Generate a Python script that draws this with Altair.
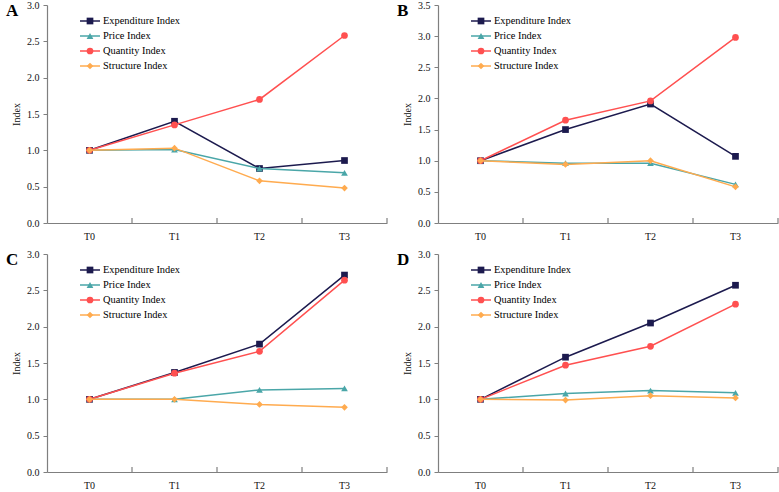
import altair as alt
import pandas as pd

periods = ["T0", "T1", "T2", "T3"]
series = ["Expenditure Index", "Price Index", "Quantity Index", "Structure Index"]
colors = ["#1c1a4e", "#4aa6a8", "#ff5050", "#ffab4f"]
shapes = ["square", "triangle-up", "circle", "diamond"]

a_expenditure = [1.00, 1.40, 0.75, 0.86]
a_price = [1.00, 1.01, 0.75, 0.69]
a_quantity = [1.00, 1.35, 1.70, 2.58]
a_structure = [1.00, 1.03, 0.58, 0.48]

b_expenditure = [1.00, 1.50, 1.91, 1.07]
b_price = [1.00, 0.96, 0.96, 0.62]
b_quantity = [1.00, 1.65, 1.96, 2.98]
b_structure = [1.00, 0.94, 1.00, 0.58]

c_expenditure = [1.00, 1.37, 1.76, 2.71]
c_price = [1.00, 1.00, 1.13, 1.15]
c_quantity = [1.00, 1.36, 1.66, 2.64]
c_structure = [1.00, 1.00, 0.93, 0.89]

d_expenditure = [1.00, 1.58, 2.05, 2.57]
d_price = [1.00, 1.08, 1.12, 1.09]
d_quantity = [1.00, 1.47, 1.73, 2.31]
d_structure = [1.00, 0.99, 1.05, 1.02]

panel_letters = ["A", "B", "C", "D"]
y_max = [3.0, 3.5, 3.0, 3.0]

FONT = "Liberation Serif, Times New Roman, serif"
GRAY = "#7f7f7f"
W, H = 340, 218

X_AXIS = alt.Axis(title=None, ticks=False, labelAngle=0, labelPadding=8,
                  domainColor=GRAY, domainWidth=1.2)


def make_x(bp):
    return alt.X("period:N", sort=periods,
                 scale=alt.Scale(type="band", domain=periods, paddingInner=0, paddingOuter=0),
                 bandPosition=bp, axis=X_AXIS)


def panel(letter, values, ymax):
    ticks = [i * 0.5 for i in range(int(round(ymax / 0.5)) + 1)]
    y = alt.Y("value:Q", scale=alt.Scale(domain=[0, ymax], nice=False, zero=True),
              axis=alt.Axis(title="Index", values=ticks, format=".1f", tickSize=4,
                            labelPadding=4, titlePadding=5, domainColor=GRAY,
                            tickColor=GRAY, domainWidth=1.2))
    color = alt.Color("series:N", scale=alt.Scale(domain=series, range=colors), legend=None)
    shape = alt.Shape("series:N", scale=alt.Scale(domain=series, range=shapes), legend=None)

    layers = []
    for s, vals in zip(series, values):
        df = pd.DataFrame({"period": periods, "value": vals, "series": s})
        layers.append(alt.Chart(df).mark_line(strokeWidth=1.5).encode(
            x=make_x(0.5), y=y, color=color))
        layers.append(alt.Chart(df).mark_point(filled=True, size=45, opacity=1).encode(
            x=make_x(0.5), y=y, color=color, shape=shape))

    tick_df = pd.DataFrame({"period": periods})
    layers.append(alt.Chart(tick_df).mark_rule(color=GRAY, strokeWidth=1.2).encode(
        x=make_x(1.0), y=alt.value(H - 5), y2=alt.value(H)))

    letter_df = pd.DataFrame({"t": [letter]})
    layers.append(alt.Chart(letter_df).mark_text(
        font=FONT, fontSize=17, fontWeight="bold", align="left", baseline="middle", color="#000"
    ).encode(x=alt.value(-41), y=alt.value(6), text="t:N"))

    main = alt.layer(*layers)

    leg_df = pd.DataFrame({"series": series, "row": [0, 1, 2, 3]})
    ly = alt.Y("row:Q", scale=alt.Scale(domain=[0, 3], range=[16, 61]), axis=None)
    leg = alt.layer(
        alt.Chart(leg_df).mark_rule(strokeWidth=1.5).encode(
            x=alt.value(33), x2=alt.value(53), y=ly, color=color),
        alt.Chart(leg_df).mark_point(filled=True, size=45, opacity=1).encode(
            x=alt.value(43), y=ly, color=color, shape=shape),
        alt.Chart(leg_df).mark_text(font=FONT, fontSize=10.4, align="left",
                                    baseline="middle", color="#000").encode(
            x=alt.value(56), y=ly, text="series:N"),
    )
    return alt.layer(main, leg).resolve_scale(y="independent").properties(width=W, height=H)


all_values = [
    [a_expenditure, a_price, a_quantity, a_structure],
    [b_expenditure, b_price, b_quantity, b_structure],
    [c_expenditure, c_price, c_quantity, c_structure],
    [d_expenditure, d_price, d_quantity, d_structure],
]
p = [panel(l, v, m) for l, v, m in zip(panel_letters, all_values, y_max)]

chart = alt.vconcat(
    alt.hconcat(p[0], p[1], spacing=9),
    alt.hconcat(p[2], p[3], spacing=9),
    spacing=8,
).properties(
    padding={"left": 6, "top": 0, "right": 0, "bottom": 0},
    background="white",
).configure_axis(
    labelFont=FONT, titleFont=FONT, labelFontSize=10, titleFontSize=10,
    labelColor="#111", titleColor="#111", titleFontWeight="normal", grid=False,
).configure_text(font=FONT).configure_view(stroke=None)

chart.save("out.html", embed_options={"renderer": "svg", "actions": False})
